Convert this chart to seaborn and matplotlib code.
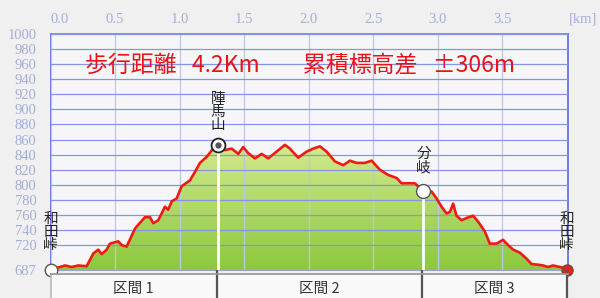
import numpy as np
import matplotlib
matplotlib.use('Agg')
import matplotlib.pyplot as plt
import matplotlib.transforms as mtransforms
import seaborn as sns
import pandas as pd
from matplotlib.colors import LinearSegmentedColormap
from matplotlib.patches import Polygon

# ---------------- data ----------------
dist_km = [0.000, 0.074, 0.112, 0.164, 0.215, 0.280, 0.332, 0.370, 0.397, 0.435,
           0.461, 0.525, 0.552, 0.590, 0.655, 0.680, 0.732, 0.771, 0.796, 0.835,
           0.887, 0.912, 0.939, 0.978, 1.016, 1.081, 1.119, 1.158, 1.210, 1.261,
           1.300, 1.352, 1.404, 1.455, 1.493, 1.532, 1.584, 1.636, 1.687, 1.752,
           1.816, 1.855, 1.919, 1.985, 2.036, 2.088, 2.139, 2.204, 2.268, 2.320,
           2.372, 2.436, 2.488, 2.552, 2.617, 2.682, 2.720, 2.823, 2.888, 2.953,
           2.991, 3.030, 3.069, 3.095, 3.120, 3.146, 3.185, 3.224, 3.275, 3.314,
           3.366, 3.404, 3.456, 3.507, 3.546, 3.585, 3.637, 3.689, 3.727, 3.779,
           3.817, 3.856, 3.893, 3.947, 4.000]
elev_m = [688, 691, 693, 691, 693, 692, 709, 714, 708, 714,
          722, 725, 720, 718, 742, 747, 757, 757, 749, 753,
          771, 767, 778, 782, 798, 806, 817, 829, 837, 848,
          853, 846, 848, 841, 850, 842, 835, 841, 835, 844,
          853, 848, 836, 844, 848, 851, 844, 831, 826, 832,
          829, 829, 832, 820, 813, 809, 802, 802, 792, 791,
          782, 771, 762, 764, 775, 759, 753, 756, 759, 751,
          738, 722, 722, 727, 720, 714, 710, 702, 695, 694,
          693, 691, 693, 691, 689]

point_names = ['和田峠', '陣馬山', '分岐', '和田峠']
point_km = [0.0, 1.30, 2.89, 4.0]
point_m = [687, 853, 792, 687]

section_names = ['区間 1', '区間 2', '区間 3']
section_edges = [0.0, 1.29, 2.88, 4.0]

x_ticks = [0.0, 0.5, 1.0, 1.5, 2.0, 2.5, 3.0, 3.5]
y_ticks = [687, 720, 740, 760, 780, 800, 820, 840, 860, 880, 900, 920, 940, 960, 980, 1000]
x_unit = '[km]'
title_dist = '歩行距離   4.2Km'
title_gain = '累積標高差   ±306m'

# ---------------- style ----------------
sns.set_theme(style='white')
plt.rcParams['font.family'] = ['Noto Sans CJK JP', 'DejaVu Sans']

W, H = 600, 298
fig = plt.figure(figsize=(W / 100, H / 100), dpi=100, facecolor='#f0f0f0')
L, R, T, B = 50.5, 568.0, 34.0, 270.0
ax = fig.add_axes([L / W, 1 - B / H, (R - L) / W, (B - T) / H])
ax.set_facecolor('#f6f6f8')

XMAX = 4.01
# gradient fill under the profile
grad = np.linspace(0, 1, 256).reshape(-1, 1)
cmap = LinearSegmentedColormap.from_list('g', ['#8cc83e', '#d8ec92'])
im = ax.imshow(grad, extent=[0, XMAX, 687, 865], origin='lower', cmap=cmap,
               aspect='auto', zorder=1, interpolation='bilinear')
poly = Polygon(np.column_stack([[dist_km[0]] + dist_km + [dist_km[-1]],
                                [687] + elev_m + [687]]),
               closed=True, facecolor='none', edgecolor='none')
ax.add_patch(poly)
im.set_clip_path(poly)

df = pd.DataFrame({'km': dist_km, 'm': elev_m})
sns.lineplot(data=df, x='km', y='m', ax=ax, color='#f01a14', lw=1.9,
             sort=False, estimator=None, zorder=3)

ax.set_xlim(0, XMAX)
ax.set_ylim(687, 1000)
ax.set_xlabel('')
ax.set_ylabel('')

# grid
ax.set_axisbelow(False)
ax.xaxis.grid(True, color='#bcc7e6', lw=0.9)
ax.yaxis.grid(True, color='#8595e6', lw=0.9)

# ticks
tick_col = '#a3aed6'
ax.xaxis.tick_top()
ax.set_xticks(x_ticks)
ax.set_xticklabels([f'{v:.1f}' for v in x_ticks], fontfamily='Liberation Serif')
first = ax.get_xticklabels()[0]
first.set_horizontalalignment('left')
first.set_transform(first.get_transform() +
                    mtransforms.ScaledTranslation(4 / 72, 0, fig.dpi_scale_trans))
ax.set_yticks(y_ticks)
ax.set_yticklabels([str(v) for v in y_ticks], fontfamily='Liberation Serif')
ax.tick_params(axis='x', length=0, pad=6, labelcolor=tick_col, labelsize=10.5)
ax.tick_params(axis='y', length=0, pad=10, labelcolor=tick_col, labelsize=10.5)
ax.annotate(x_unit, xy=(1, 1), xycoords='axes fraction', xytext=(11, 6),
            textcoords='offset points', ha='center', va='bottom',
            color=tick_col, fontsize=10.5, fontfamily='Liberation Serif')

for s in ['left', 'right']:
    ax.spines[s].set_color('#5a6ae0')
    ax.spines[s].set_linewidth(1.2)
ax.spines['top'].set_color('#7080e0')
ax.spines['top'].set_linewidth(1.2)
ax.spines['bottom'].set_color('#9ea4d2')
ax.spines['bottom'].set_linewidth(1.5)

# titles
ax.text(0.0667, 0.869, title_dist, transform=ax.transAxes, color='#e8121a',
        fontsize=16.5, ha='left', va='center')
ax.text(0.488, 0.869, title_gain, transform=ax.transAxes, color='#e8121a',
        fontsize=16.5, ha='left', va='center')

# vertical white lines to the waypoints
ax.vlines(point_km[1:3], 687, point_m[1:3], colors='white', lw=2, zorder=2.7)

# markers
ax.plot(point_km[0], point_m[0], 'o', ms=9, mfc='white', mec='#555555', mew=1,
        clip_on=False, zorder=6)
ax.plot(point_km[1], point_m[1], 'o', ms=10, mfc='white', mec='#222222', mew=1.3,
        clip_on=False, zorder=6)
ax.plot(point_km[1], point_m[1], 'o', ms=3.5, mfc='#555555', mec='#555555',
        clip_on=False, zorder=7)
ax.plot(point_km[2], point_m[2], 'o', ms=10, mfc='white', mec='#555555', mew=1,
        clip_on=False, zorder=6)
ax.plot(point_km[3], point_m[3], 'o', ms=8, mfc='#e22222', mec='#7a4a30', mew=1,
        clip_on=False, zorder=6)

label_offsets = [13, 9, 12, 13]
for name, xk, ym, off in zip(point_names, point_km, point_m, label_offsets):
    ax.annotate('\n'.join(name), xy=(xk, ym), xytext=(0, off),
                textcoords='offset points', ha='center', va='bottom',
                fontsize=10.5, color='#222222', linespacing=0.92,
                annotation_clip=False, zorder=8)

# section band
bx = fig.add_axes([L / W, 0, (R - L) / W, 24 / H])
bx.set_facecolor('#f9f9f9')
bx.set_xlim(0, XMAX)
bx.set_ylim(0, 1)
bx.set_xticks([])
bx.set_yticks([])
bx.spines['top'].set_color('#999999')
bx.spines['left'].set_color('#bbbbbb')
bx.spines['right'].set_visible(False)
bx.spines['bottom'].set_visible(False)
bx.vlines(section_edges[1:], 0, 1.18, colors='#555555', lw=1.6, clip_on=False)
for name, a, b in zip(section_names, section_edges[:-1], section_edges[1:]):
    bx.text((a + b) / 2, 0.36, name, ha='center', va='center', fontsize=10.5,
            color='#333333')

fig.savefig('out.png', dpi=100, facecolor=fig.get_facecolor())
